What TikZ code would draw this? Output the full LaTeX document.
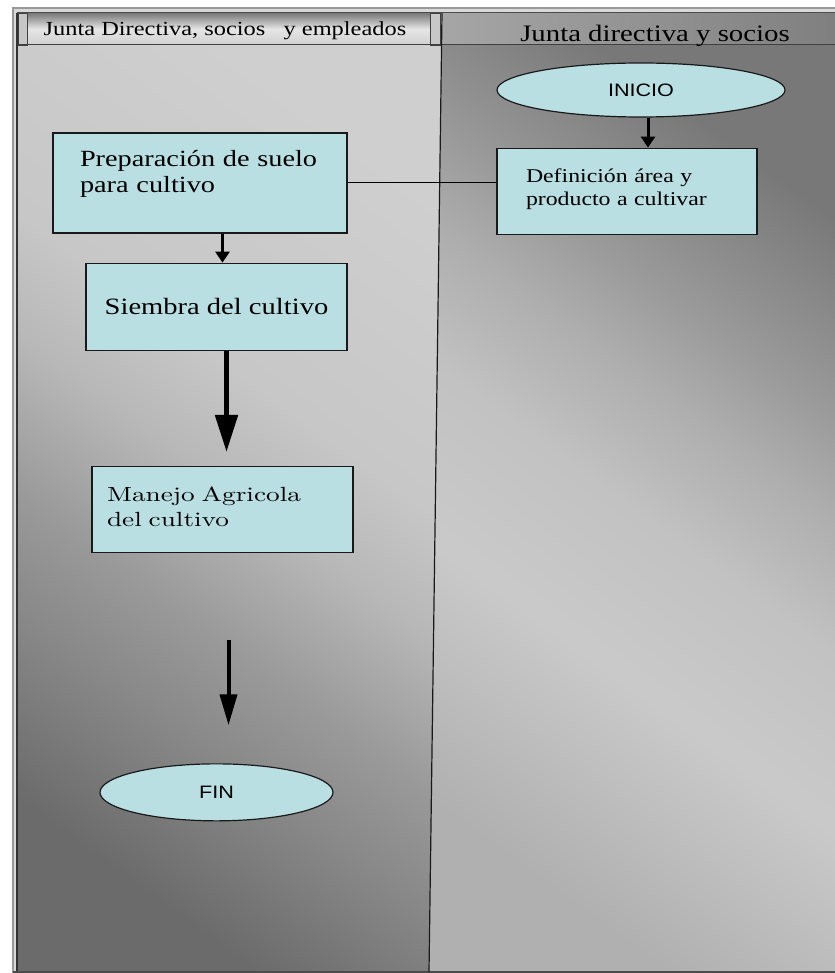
\documentclass[tikz,border=0pt]{standalone}
\usepackage{fontspec}
\usepackage{tikz}
\usetikzlibrary{arrows.meta,positioning,shapes.geometric}
\setmainfont{Liberation Serif}
\newfontfamily\boxfont{Liberation Serif}[FakeStretch=1.22]
\newfontfamily\termfont{Liberation Sans}[FakeStretch=1.2]
\newfontfamily\manfont{lmroman10-regular.otf}[FakeStretch=1.33]
\definecolor{cellfill}{HTML}{B9DFE3}
\pgfdeclareverticalshading{leftlane}{100bp}{color(0bp)=(black!58); color(25bp)=(black!58);
  color(35bp)=(black!47); color(42bp)=(black!40); color(51bp)=(black!28); color(58bp)=(black!22);
  color(75bp)=(black!19); color(100bp)=(black!19)}
\pgfdeclareverticalshading{rightlane}{100bp}{color(0bp)=(black!31); color(25bp)=(black!31);
  color(40bp)=(black!21); color(50bp)=(black!24); color(58bp)=(black!32); color(64bp)=(black!40);
  color(75bp)=(black!53); color(100bp)=(black!53)}

\begin{document}
\begin{tikzpicture}[
  x=1pt, y=1pt,
  stepbox/.style={draw=black!90, line width=1.3pt, fill=cellfill, inner ysep=0pt},
  note/.style={stepbox, align=left},
  term/.style={ellipse, draw=black!90, line width=1.2pt, fill=cellfill, inner sep=0pt, font=\termfont\fontsize{18}{20}\selectfont},
  flow/.style={-{Triangle[length=11pt,width=14pt]}, line width=3pt},
  lanehead/.style={anchor=base, inner sep=0pt}
]
\useasboundingbox (0,0) rectangle (834,-973);
\fill[white] (0,0) rectangle (834,-973);
\filldraw[fill=black!15, draw=black!40, line width=1.5pt] (13,-8) rectangle (840,-972);
\shade[shading=leftlane, shading angle=-36]
  (17,-45) -- (441.5,-45) -- (429,-972) -- (17,-972) -- cycle;
\shade[shading=rightlane, shading angle=-36]
  (441.5,-45) -- (836,-45) -- (836,-972) -- (429,-972) -- cycle;
\shade[left color=black!35, right color=black!50] (441.5,-13) rectangle (836,-45);
\fill[black!22] (17,-13) rectangle (441.5,-45);
\shade[top color=black!50, bottom color=black!18, middle color=black!10] (27,-14) rectangle (430,-44);
\draw[black!75, line width=0.8pt] (18,-13) rectangle (27,-45) (430,-13) rectangle (440,-45);
\draw[black!70, line width=1pt] (17,-13) -- (836,-13);
\draw[black!75, line width=1pt] (17,-45) -- (836,-45);
\draw[black!80, line width=2pt] (17,-13) -- (17,-972);
\draw[black!70, line width=1.5pt] (13,-972) -- (836,-972);
\draw[black!90, line width=1.2pt] (442,-13) -- (429,-972);

\node[lanehead, font=\boxfont\fontsize{20}{22}\selectfont] (lhead) at (225,-36) {Junta Directiva, socios\ \ \ y empleados};
\node[lanehead, font=\boxfont\fontsize{23.6}{26}\selectfont] (rhead) at (655,-42) {Junta directiva y socios};

\node[term, minimum width=288pt, minimum height=54pt] (inicio) at (641,-90) {INICIO};
\node[note, below=30pt of inicio, xshift=-14pt, inner xsep=29pt, text width=202pt, text height=34pt, text depth=52pt,
  font=\boxfont\fontsize{19.5}{23}\selectfont] (defin) {Definición área y\\producto a cultivar};
\node[note, inner xsep=27pt, text width=240pt, text height=34pt, text depth=66pt,
  font=\boxfont\fontsize{23.2}{26}\selectfont] (prep) at (200,-183) {Preparación de suelo\\para cultivo};
\node[stepbox, below=29pt of prep, xshift=16.5pt, minimum width=261pt, minimum height=87pt,
  font=\boxfont\fontsize{23.4}{26}\selectfont] (siembra) {Siembra del cultivo};
\node[note, below=115pt of siembra, xshift=6pt, inner xsep=15pt, text width=231pt, text height=35pt, text depth=51pt,
  font=\manfont\fontsize{20.5}{25}\selectfont] (manejo) {Manejo Agricola\\del cultivo};
\node[term, below=210pt of manejo, xshift=-6pt, minimum width=233pt, minimum height=57pt] (fin) {FIN};

\draw[flow] ([xshift=7pt]inicio.south) -- ([xshift=7pt]inicio.south |- defin.north);
\draw[black, line width=1pt] (prep.east) -- (prep.east -| defin.west);
\draw[flow] ([xshift=6pt]siembra.north |- prep.south) -- ([xshift=6pt]siembra.north);
\draw[flow, line width=5pt, -{Triangle[length=37pt,width=22pt]}, shorten >=14pt]
  ([xshift=10pt]siembra.south) -- ([xshift=10pt]siembra.south |- manejo.north);
\draw[flow, line width=4pt, -{Triangle[length=31pt,width=17pt]}, shorten <=87pt, shorten >=38pt]
  ([xshift=6pt]manejo.south) -- ([xshift=6pt]manejo.south |- fin.north);
\end{tikzpicture}
\end{document}
